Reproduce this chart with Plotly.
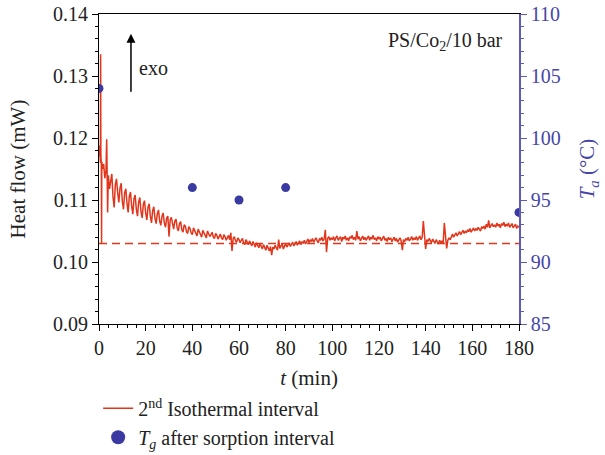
import plotly.graph_objects as go

# ---- data ----
t_early = [0.0, 0.3, 0.6, 0.7, 0.8, 1.0, 1.1, 1.2, 1.5, 2.0, 2.5, 3.0, 3.3, 3.5, 3.7, 4.0, 4.5]
hf_early = [0.1170, 0.1188, 0.1160, 0.1335, 0.1175, 0.1155, 0.1030, 0.1162, 0.1150,
            0.1158, 0.1135, 0.1148, 0.1198, 0.1120, 0.1080, 0.1140, 0.1118]

# heat flow sampled every 0.5 min from t = 5.0 to 180.0
hf_main = [
    0.1130, 0.1142, 0.1105, 0.1088, 0.1125, 0.1134, 0.1112, 0.1096, 0.1119, 0.1127,  # 5
    0.1098, 0.1085, 0.1112, 0.1118, 0.1094, 0.1080, 0.1106, 0.1113, 0.1090, 0.1077,  # 10
    0.1102, 0.1108, 0.1085, 0.1074, 0.1097, 0.1104, 0.1081, 0.1071, 0.1093, 0.1099,  # 15
    0.1079, 0.1068, 0.1088, 0.1094, 0.1074, 0.1063, 0.1083, 0.1089, 0.1070, 0.1062,  # 20
    0.1078, 0.1084, 0.1066, 0.1059, 0.1074, 0.1079, 0.1063, 0.1056, 0.1071, 0.1074,  # 25
    0.1041, 0.1068, 0.1072, 0.1058, 0.1053, 0.1066, 0.1069, 0.1055, 0.1050, 0.1062,  # 30
    0.1065, 0.1052, 0.1048, 0.1060, 0.1058, 0.1049, 0.1046, 0.1057, 0.1054, 0.1047,  # 35
    0.1044, 0.1055, 0.1051, 0.1045, 0.1042, 0.1053, 0.1049, 0.1043, 0.1040, 0.1051,  # 40
    0.1047, 0.1042, 0.1039, 0.1050, 0.1045, 0.1041, 0.1044, 0.1048, 0.1040, 0.1038,  # 45
    0.1046, 0.1043, 0.1037, 0.1041, 0.1045, 0.1039, 0.1036, 0.1044, 0.1041, 0.1035,  # 50
    0.1040, 0.1043, 0.1036, 0.1047, 0.1018, 0.1038, 0.1041, 0.1034, 0.1032, 0.1039,  # 55
    0.1036, 0.1031, 0.1035, 0.1038, 0.1030, 0.1029, 0.1036, 0.1033, 0.1028, 0.1034,  # 60
    0.1031, 0.1026, 0.1033, 0.1029, 0.1024, 0.1031, 0.1027, 0.1023, 0.1030, 0.1026,  # 65
    0.1021, 0.1028, 0.1024, 0.1019, 0.1027, 0.1022, 0.1018, 0.1025, 0.1011, 0.1024,  # 70
    0.1021, 0.1027, 0.1023, 0.1019, 0.1036, 0.1022, 0.1026, 0.1029, 0.1021, 0.1027,  # 75
    0.1030, 0.1024, 0.1028, 0.1031, 0.1025, 0.1029, 0.1032, 0.1026, 0.1030, 0.1033,  # 80
    0.1027, 0.1031, 0.1034, 0.1028, 0.1033, 0.1030, 0.1035, 0.1029, 0.1034, 0.1037,  # 85
    0.1031, 0.1036, 0.1033, 0.1038, 0.1032, 0.1036, 0.1039, 0.1034, 0.1031, 0.1038,  # 90
    0.1035, 0.1040, 0.1034, 0.1037, 0.1052, 0.1016, 0.1038, 0.1041, 0.1035, 0.1039,  # 95
    0.1036, 0.1041, 0.1034, 0.1039, 0.1042, 0.1035, 0.1038, 0.1041, 0.1033, 0.1040,  # 100
    0.1037, 0.1042, 0.1035, 0.1039, 0.1034, 0.1041, 0.1038, 0.1043, 0.1036, 0.1040,  # 105
    0.1035, 0.1050, 0.1037, 0.1041, 0.1034, 0.1039, 0.1042, 0.1036, 0.1040, 0.1035,  # 110
    0.1038, 0.1042, 0.1035, 0.1040, 0.1037, 0.1043, 0.1036, 0.1039, 0.1034, 0.1041,  # 115
    0.1037, 0.1040, 0.1034, 0.1039, 0.1042, 0.1035, 0.1038, 0.1033, 0.1040, 0.1036,  # 120
    0.1039, 0.1033, 0.1037, 0.1040, 0.1034, 0.1038, 0.1032, 0.1036, 0.1039, 0.1034,  # 125
    0.1019, 0.1036, 0.1033, 0.1038, 0.1035, 0.1040, 0.1034, 0.1037, 0.1041, 0.1035,  # 130
    0.1039, 0.1036, 0.1041, 0.1035, 0.1038, 0.1042, 0.1036, 0.1040, 0.1066, 0.1037,  # 135
    0.1021, 0.1036, 0.1033, 0.1038, 0.1034, 0.1031, 0.1037, 0.1033, 0.1030, 0.1036,  # 140
    0.1032, 0.1029, 0.1035, 0.1031, 0.1034, 0.1030, 0.1063, 0.1036, 0.1022, 0.1035,  # 145
    0.1039, 0.1036, 0.1042, 0.1045, 0.1040, 0.1044, 0.1047, 0.1042, 0.1046, 0.1049,  # 150
    0.1044, 0.1048, 0.1051, 0.1046, 0.1050, 0.1047, 0.1052, 0.1049, 0.1054, 0.1048,  # 155
    0.1052, 0.1055, 0.1050, 0.1054, 0.1051, 0.1056, 0.1053, 0.1050, 0.1057, 0.1054,  # 160
    0.1058, 0.1053, 0.1061, 0.1056, 0.1067, 0.1055, 0.1059, 0.1062, 0.1057, 0.1060,  # 165
    0.1056, 0.1063, 0.1058, 0.1061, 0.1055, 0.1062, 0.1059, 0.1064, 0.1057, 0.1061,  # 170
    0.1058, 0.1063, 0.1056, 0.1060, 0.1062, 0.1055, 0.1059, 0.1061, 0.1054, 0.1058,  # 175
    0.1056,                                                                          # 180
]
t_main = [5.0 + 0.5 * i for i in range(len(hf_main))]

time_min = t_early + t_main
heat_flow = hf_early + hf_main

baseline_t = [0, 180]
baseline_hf = [0.103, 0.103]

tg_time = [0, 40, 60, 80, 180]
tg_temp = [104, 96, 95, 96, 94]

RED = "#e2361c"
BLUE_DOT = "#3a3aa2"
BLUE_AX = "#5c5cb6"
BLUE_TXT = "#4646a6"
FONT = "Liberation Serif"

fig = go.Figure()
fig.add_trace(go.Scatter(x=time_min, y=heat_flow, mode="lines",
                         line=dict(color=RED, width=1.5),
                         name="2<sup>nd</sup> Isothermal interval"))
fig.add_trace(go.Scatter(x=baseline_t, y=baseline_hf, mode="lines",
                         line=dict(color=RED, width=1.5, dash="8px,5px"),
                         showlegend=False))
fig.add_trace(go.Scatter(x=tg_time, y=tg_temp, mode="markers", yaxis="y2",
                         marker=dict(color=BLUE_DOT, size=9), showlegend=False))
# legend entry for the Tg markers (drawn with a larger symbol, as in the original)
fig.add_trace(go.Scatter(x=[None], y=[None], mode="markers", yaxis="y2",
                         marker=dict(color=BLUE_DOT, size=14),
                         name="<i>T</i><sub><i>g</i></sub> after sorption interval"))

fig.update_layout(
    width=605, height=455,
    margin=dict(l=99, r=86, t=14, b=131, autoexpand=False),
    paper_bgcolor="white", plot_bgcolor="white",
    font=dict(family=FONT, size=20, color="#222222"),
    showlegend=True,
    legend=dict(x=-0.002, y=-0.209, xanchor="left", yanchor="top",
                bgcolor="rgba(0,0,0,0)", font=dict(size=20, color="#222222"),
                tracegroupgap=0, itemwidth=30),
    xaxis=dict(range=[0, 180], dtick=20, showline=True, linecolor="black",
               linewidth=1, mirror=True, ticks="outside", ticklen=6,
               tickcolor="black", showgrid=False, zeroline=False, automargin=False,
               ticklabeloverflow="allow",
               minor=dict(dtick=4, ticks="outside", ticklen=3, tickcolor="black"),
               title=dict(text="<i>t</i> (min)", font=dict(size=21), standoff=12)),
    yaxis=dict(range=[0.09, 0.14], dtick=0.01, tickformat=".2f", showline=True,
               linecolor="black", linewidth=1, ticks="outside", ticklen=6,
               tickcolor="black", showgrid=False, zeroline=False, automargin=False,
               ticklabeloverflow="allow",
               minor=dict(dtick=0.002, ticks="outside", ticklen=3, tickcolor="black"),
               title=dict(text="Heat flow (mW)", font=dict(size=21), standoff=21)),
    yaxis2=dict(range=[85, 110], dtick=5, overlaying="y", side="right",
                showline=True, linecolor=BLUE_AX, linewidth=1.5, ticks="outside",
                ticklen=6, tickcolor=BLUE_AX, showgrid=False, zeroline=False,
                automargin=False, tickfont=dict(color=BLUE_TXT),
                ticklabeloverflow="allow",
                minor=dict(dtick=1, ticks="outside", ticklen=3, tickcolor=BLUE_AX),
                title=dict(text="<i>T</i><sub><i>a</i></sub> (°C)",
                           font=dict(size=21, color=BLUE_TXT), standoff=20)),
)

fig.add_annotation(x=13.7, y=0.1368, ax=13.7, ay=0.1272, xref="x", yref="y",
                   axref="x", ayref="y", text="", showarrow=True,
                   arrowhead=2, arrowsize=1.2, arrowwidth=1.5, arrowcolor="black")
fig.add_annotation(x=16.3, y=0.1313, xref="x", yref="y", text="exo",
                   showarrow=False, xanchor="left", font=dict(size=20, color="#222222"))
fig.add_annotation(x=123, y=0.1355, xref="x", yref="y",
                   text="PS/Co<sub>2</sub>/10 bar", showarrow=False,
                   xanchor="left", font=dict(size=20, color="#222222"))

# remove the page's default 8px body margin so the figure fills the window exactly
fig.write_html("out.html", config={"displayModeBar": False},
               post_script="document.body.style.margin='0';document.body.style.overflow='hidden';")
